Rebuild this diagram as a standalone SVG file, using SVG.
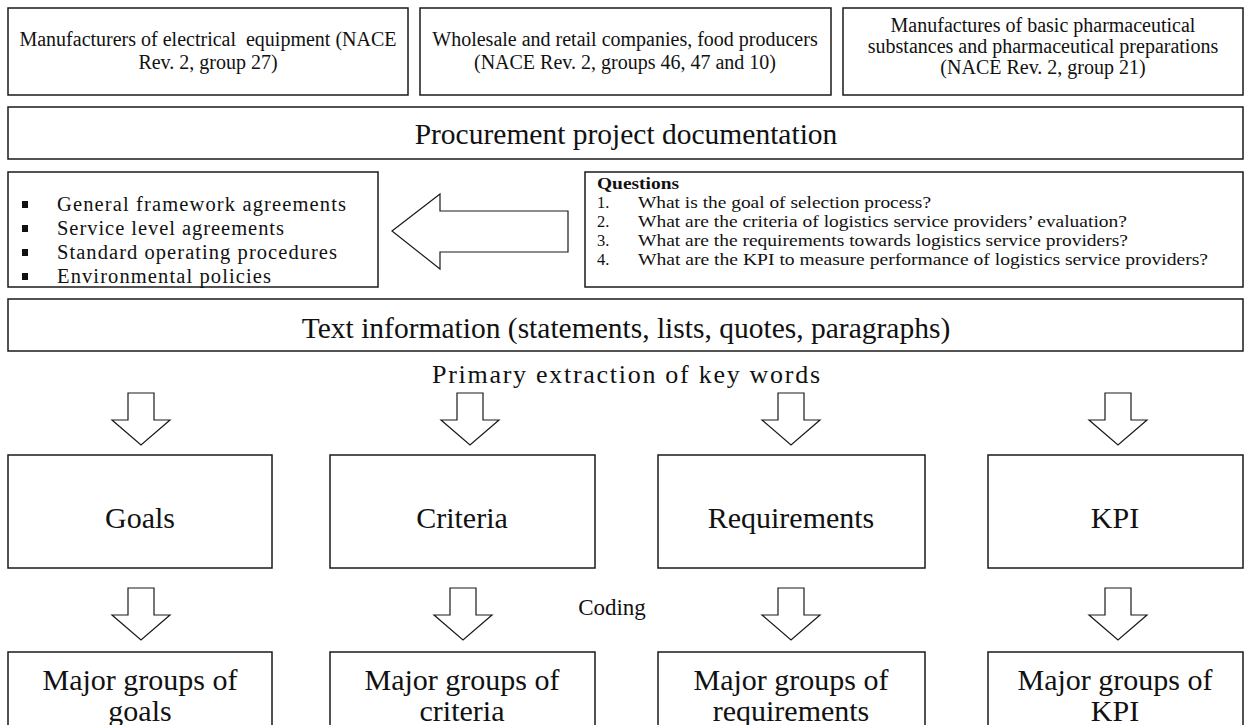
<svg xmlns="http://www.w3.org/2000/svg" width="1252" height="725" viewBox="0 0 1252 725">
  <style>
    .box { fill: #ffffff; stroke: #1a1a1a; stroke-width: 1.5; }
    .arrow { fill: #ffffff; stroke: #1a1a1a; stroke-width: 1.2; stroke-linejoin: miter; }
    text { font-family: "Liberation Serif", "Times New Roman", serif; fill: #111111; }
    .small { font-size: 20px; text-anchor: middle; }
    .band { font-size: 29.5px; text-anchor: middle; }
    .list { font-size: 20.5px; }
    .q { font-size: 16.5px; }
    .label { font-size: 23px; text-anchor: middle; }
    .label.wide { font-size: 26px; }
    .big { font-size: 30px; text-anchor: middle; }
  </style>
  <defs>
    <!-- hollow block arrow pointing down, origin at top centre of the shaft -->
    <polygon id="down" class="arrow" points="-13,0 13,0 13,27 29,27 0,52 -29,27 -13,27 -13,0"/>
  </defs>

  <!-- industry groups -->
  <g id="sector-electrical">
    <rect class="box" x="8" y="8" width="400" height="87"/>
    <text class="small" x="208" y="46" xml:space="preserve">Manufacturers of electrical  equipment (NACE</text>
    <text class="small" x="208" y="69">Rev. 2, group 27)</text>
  </g>
  <g id="sector-wholesale">
    <rect class="box" x="420" y="8" width="411" height="87"/>
    <text class="small" x="625" y="46">Wholesale and retail companies, food producers</text>
    <text class="small" x="625" y="69">(NACE Rev. 2, groups 46, 47 and 10)</text>
  </g>
  <g id="sector-pharma">
    <rect class="box" x="843" y="8" width="400" height="87"/>
    <text class="small" x="1043" y="32">Manufactures of basic pharmaceutical</text>
    <text class="small" x="1043" y="53">substances and pharmaceutical preparations</text>
    <text class="small" x="1043" y="74">(NACE Rev. 2, group 21)</text>
  </g>

  <g id="procurement-docs">
    <rect class="box" x="8" y="107" width="1235" height="52"/>
    <text class="band" x="626" y="144">Procurement project documentation</text>
  </g>

  <g id="document-types">
    <rect class="box" x="8" y="172" width="370" height="115"/>
    <rect x="22" y="201" width="6" height="7" fill="#111"/>
    <rect x="22" y="225" width="6" height="7" fill="#111"/>
    <rect x="22" y="249" width="6" height="7" fill="#111"/>
    <rect x="22" y="273" width="6" height="7" fill="#111"/>
    <text class="list" x="57" y="211" textLength="289" lengthAdjust="spacing">General framework agreements</text>
    <text class="list" x="57" y="235" textLength="227" lengthAdjust="spacing">Service level agreements</text>
    <text class="list" x="57" y="259" textLength="280" lengthAdjust="spacing">Standard operating procedures</text>
    <text class="list" x="57" y="283" textLength="214" lengthAdjust="spacing">Environmental policies</text>
  </g>

  <g id="questions">
    <rect class="box" x="585" y="172" width="658" height="115"/>
    <text class="q" x="597" y="189" font-weight="bold" textLength="82" lengthAdjust="spacingAndGlyphs">Questions</text>
    <text class="q" x="597" y="208">1.</text>
    <text class="q" x="638" y="208" textLength="293" lengthAdjust="spacingAndGlyphs">What is the goal of selection process?</text>
    <text class="q" x="597" y="227">2.</text>
    <text class="q" x="638" y="227" textLength="489" lengthAdjust="spacingAndGlyphs">What are the criteria of logistics service providers’ evaluation?</text>
    <text class="q" x="597" y="246">3.</text>
    <text class="q" x="638" y="246" textLength="490" lengthAdjust="spacingAndGlyphs">What are the requirements towards logistics service providers?</text>
    <text class="q" x="597" y="265">4.</text>
    <text class="q" x="638" y="265" textLength="570" lengthAdjust="spacingAndGlyphs">What are the KPI to measure performance of logistics service providers?</text>
  </g>

  <g id="text-information">
    <rect class="box" x="8" y="299" width="1235" height="52"/>
    <text class="band" x="626" y="338">Text information (statements, lists, quotes, paragraphs)</text>
  </g>

  <g id="goals">
    <rect class="box" x="8" y="455" width="264" height="113"/>
    <text class="big" x="140" y="528">Goals</text>
  </g>
  <g id="criteria">
    <rect class="box" x="330" y="455" width="265" height="113"/>
    <text class="big" x="462" y="528">Criteria</text>
  </g>
  <g id="requirements">
    <rect class="box" x="658" y="455" width="267" height="113"/>
    <text class="big" x="791" y="528">Requirements</text>
  </g>
  <g id="kpi">
    <rect class="box" x="988" y="455" width="255" height="113"/>
    <text class="big" x="1115" y="528">KPI</text>
  </g>

  <g id="groups-goals">
    <rect class="box" x="8" y="652" width="264" height="80"/>
    <text class="big" x="140" y="690">Major groups of</text>
    <text class="big" x="140" y="721">goals</text>
  </g>
  <g id="groups-criteria">
    <rect class="box" x="330" y="652" width="265" height="80"/>
    <text class="big" x="462" y="690">Major groups of</text>
    <text class="big" x="462" y="721">criteria</text>
  </g>
  <g id="groups-requirements">
    <rect class="box" x="658" y="652" width="267" height="80"/>
    <text class="big" x="791" y="690">Major groups of</text>
    <text class="big" x="791" y="721">requirements</text>
  </g>
  <g id="groups-kpi">
    <rect class="box" x="988" y="652" width="255" height="80"/>
    <text class="big" x="1115" y="690">Major groups of</text>
    <text class="big" x="1115" y="721">KPI</text>
  </g>

  <!-- connectors -->
  <g id="connectors">
    <polygon class="arrow" points="392,231 440,194 440,211 568,211 568,252 440,252 440,269"/>
    <text class="label wide" x="626" y="383" textLength="388" lengthAdjust="spacing">Primary extraction of key words</text>
    <use href="#down" x="141" y="393"/>
    <use href="#down" x="470" y="393"/>
    <use href="#down" x="791" y="393"/>
    <use href="#down" x="1118" y="393"/>
    <text class="label" x="612" y="615">Coding</text>
    <use href="#down" x="141" y="588"/>
    <use href="#down" x="463" y="588"/>
    <use href="#down" x="791" y="588"/>
    <use href="#down" x="1118" y="588"/>
  </g>
</svg>
